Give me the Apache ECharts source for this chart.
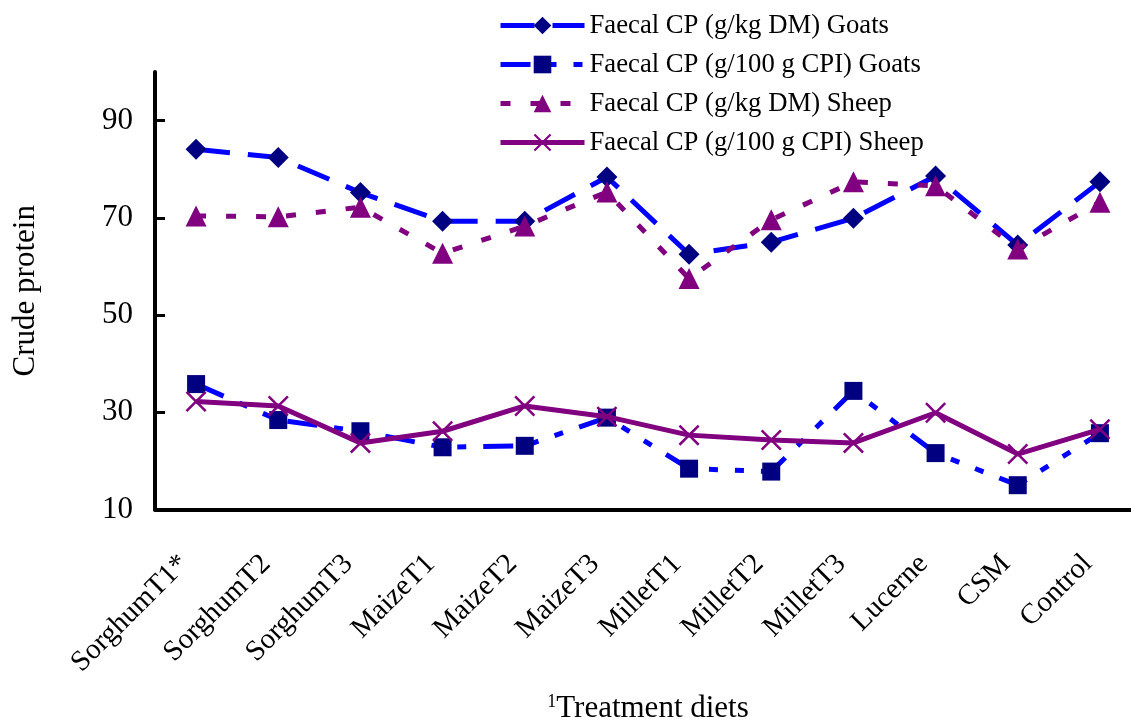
<!DOCTYPE html>
<html>
<head>
<meta charset="utf-8">
<script src="https://cdn.jsdelivr.net/npm/echarts@6/dist/echarts.min.js"></script>
<style>
  html, body { margin: 0; padding: 0; background: #fff; }
  #chart { width: 1131px; height: 722px; }
</style>
</head>
<body>
<div id="chart"></div>
<script>
// Treatment diets on the category axis
const categories = ['SorghumT1*', 'SorghumT2', 'SorghumT3', 'MaizeT1', 'MaizeT2', 'MaizeT3',
  'MilletT1', 'MilletT2', 'MilletT3', 'Lucerne', 'CSM', 'Control'];

// Faecal crude protein values
const goatsDM = [84.1, 82.4, 75.2, 69.3, 69.3, 78.4, 62.5, 65.0, 69.9, 78.6, 64.4, 77.4];
const goatsCPI = [35.8, 28.4, 26.1, 22.8, 23.1, 28.9, 18.4, 17.8, 34.4, 21.6, 15.0, 25.7];
const sheepDM = [70.4, 70.2, 72.2, 62.7, 68.3, 75.3, 57.5, 69.6, 77.4, 76.6, 63.6, 73.2];
const sheepCPI = [32.2, 31.3, 23.7, 26.1, 31.3, 29.1, 25.3, 24.3, 23.7, 29.9, 21.4, 26.5];

const seriesNames = [
  'Faecal CP (g/kg DM) Goats',
  'Faecal CP (g/100 g CPI) Goats',
  'Faecal CP (g/kg DM) Sheep',
  'Faecal CP (g/100 g CPI) Sheep'
];

// Y axis tick values
const yTicks = [10, 30, 50, 70, 90];

const FONT = '"Liberation Serif", "Times New Roman", serif';
const BLUE = '#0000ff';
const NAVY = '#000080';
const PURPLE = '#800080';
// thin diagonal cross marker
const CROSS = 'path://M0,1.7L1.7,0L10,8.3L18.3,0L20,1.7L11.7,10L20,18.3L18.3,20L10,11.7L1.7,20L0,18.3L8.3,10Z';

const chart = echarts.init(document.getElementById('chart'), null, { renderer: 'canvas' });

chart.setOption({
  animation: false,
  backgroundColor: '#fff',
  grid: { left: 155, top: 72, width: 986, height: 437.5, containLabel: false, outerBoundsMode: 'none' },
  legend: {
    orient: 'vertical',
    left: 498,
    top: 12,
    padding: 0,
    itemWidth: 84,
    itemHeight: 22,
    itemGap: 12,
    lineStyle: { width: 5 },
    textStyle: { fontFamily: FONT, fontSize: 26.7, color: '#000', lineHeight: 26 },
    data: seriesNames
  },
  xAxis: {
    type: 'category',
    data: categories,
    boundaryGap: true,
    name: '{sup|1}{t|Treatment diets}',
    nameLocation: 'middle',
    nameGap: 184,
    nameTextStyle: {
      fontFamily: FONT, color: '#000',
      rich: {
        sup: { fontFamily: FONT, fontSize: 18, color: '#000', verticalAlign: 'top', lineHeight: 31 },
        t: { fontFamily: FONT, fontSize: 31, color: '#000', lineHeight: 31 }
      }
    },
    axisLine: { lineStyle: { color: '#000', width: 4 } },
    axisTick: { inside: true, length: 8, lineStyle: { color: '#000', width: 3 } },
    axisLabel: {
      rotate: 45, margin: 38, interval: 0, padding: [0, 17, 0, 0],
      fontFamily: FONT, fontSize: 29, color: '#000'
    },
    splitLine: { show: false }
  },
  yAxis: {
    type: 'value',
    min: 10,
    max: 100,
    interval: 20,
    name: 'Crude protein',
    nameLocation: 'middle',
    nameRotate: 90,
    nameGap: 114,
    nameTextStyle: { fontFamily: FONT, fontSize: 31, color: '#000' },
    axisLine: { show: true, lineStyle: { color: '#000', width: 4 } },
    axisTick: { show: true, inside: true, length: 10, customValues: yTicks, lineStyle: { color: '#000', width: 3 } },
    axisLabel: { margin: 22, customValues: yTicks, fontFamily: FONT, fontSize: 31, color: '#000' },
    splitLine: { show: false }
  },
  series: [
    {
      name: seriesNames[0], type: 'line', data: goatsDM,
      symbol: 'diamond', symbolSize: 21,
      itemStyle: { color: NAVY },
      lineStyle: { color: BLUE, width: 5, type: [34, 18] },
      z: 2
    },
    {
      name: seriesNames[1], type: 'line', data: goatsCPI,
      symbol: 'rect', symbolSize: 18,
      itemStyle: { color: NAVY },
      lineStyle: { color: BLUE, width: 5, type: [30, 17, 9, 17, 9, 17] },
      z: 3
    },
    {
      name: seriesNames[2], type: 'line', data: sheepDM,
      symbol: 'triangle', symbolSize: 21,
      itemStyle: { color: PURPLE },
      lineStyle: { color: PURPLE, width: 5, type: [10, 20] },
      z: 4
    },
    {
      name: seriesNames[3], type: 'line', data: sheepCPI,
      symbol: CROSS, symbolSize: 21, symbolKeepAspect: true,
      itemStyle: { color: PURPLE },
      lineStyle: { color: PURPLE, width: 5, type: 'solid' },
      z: 5
    }
  ]
});
</script>
</body>
</html>
